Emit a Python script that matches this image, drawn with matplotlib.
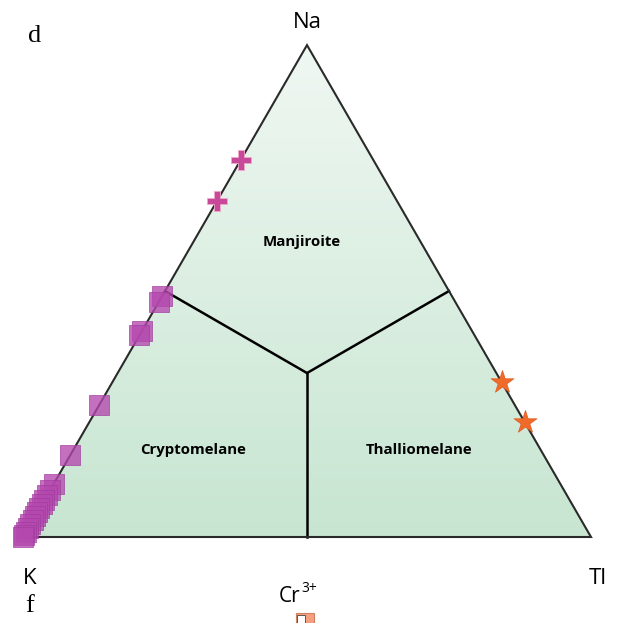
import numpy as np
import matplotlib.pyplot as plt
from matplotlib.patches import Polygon, Rectangle

# ---------------- datos (fracciones Na, K, Tl) ----------------
# cruces: sobre el lado K-Na
plus_na = [0.766, 0.683]
# cuadrados: sobre el lado K-Na (Tl = 0)
sq_na = [0.490, 0.478, 0.418, 0.410, 0.268, 0.167, 0.108,
         0.095, 0.085, 0.075, 0.068, 0.058, 0.050, 0.042,
         0.034, 0.026, 0.018, 0.010, 0.004, 0.0]
# estrellas: sobre el lado Na-Tl (K = 0)
star_na = [0.315, 0.234]

vertex_labels = ["Na", "K", "Tl"]
field_names = ["Manjiroite", "Cryptomelane", "Thalliomelane"]
field_comp = [(0.60, 0.21, 0.19), (0.177, 0.612, 0.211), (0.177, 0.214, 0.609)]

SQ_COLOR = "#b448ae"
PLUS_COLOR = "#c8489a"
STAR_COLOR = "#f06a2a"

H = np.sqrt(3) / 2


def tern(na, k, tl):
    na, k, tl = np.asarray(na, float), np.asarray(k, float), np.asarray(tl, float)
    s = na + k + tl
    return (tl + na / 2) / s, na * H / s


fig = plt.figure(figsize=(6.25, 6.23), dpi=100)
ax = fig.add_axes([0, 0, 1, 1])
S = 568.0  # px por unidad
ax.set_xlim(-23 / S, (625 - 23) / S)
ax.set_ylim(-(623 - 537) / S, 537 / S)
ax.axis("off")

# triángulo con degradado
corners = [tern(1, 0, 0), tern(0, 1, 0), tern(0, 0, 1)]
tri = Polygon(corners, closed=True, facecolor="none", edgecolor="#2a2a2a", lw=1.5, zorder=3)
ax.add_patch(tri)
grad = np.linspace(0, 1, 256).reshape(-1, 1)
top = np.array([0.94, 0.97, 0.95])
bot = np.array([0.78, 0.90, 0.82])
img = top + (bot - top) * grad[..., None]
im = ax.imshow(img, extent=[0, 1, 0, H], origin="upper", aspect="auto", zorder=1)
im.set_clip_path(tri)

# límites de campos
cx, cy = tern(1, 1, 1)
for m in [(1, 1, 0), (1, 0, 1), (0, 1, 1)]:
    mx, my = tern(*m)
    ax.plot([cx, mx], [cy, my], color="black", lw=1.8, zorder=2)

for name, c in zip(field_names, field_comp):
    x, y = tern(*c)
    ax.text(x, y, name, ha="center", va="center", fontsize=10.8, fontweight="bold",
            family="Open Sans", zorder=4)

# puntos
sq = np.array(sq_na)
x, y = tern(sq, 1 - sq, np.zeros_like(sq))
ax.scatter(x, y, marker="s", s=200, color=SQ_COLOR, alpha=0.78, edgecolors="#a03c9e",
           linewidths=0.6, zorder=5)

pl = np.array(plus_na)
x, y = tern(pl, 1 - pl, np.zeros_like(pl))
ax.scatter(x, y, marker="P", s=220, color=PLUS_COLOR, edgecolors="#f0a8c8",
           linewidths=0.6, zorder=5)

st = np.array(star_na)
x, y = tern(st, np.zeros_like(st), 1 - st)
ax.scatter(x, y, marker="*", s=300, color=STAR_COLOR, edgecolors="#e05a20",
           linewidths=0.5, zorder=5)

# etiquetas de vértices y textos de la figura
def px(xp, yp):
    return xp / 625, 1 - yp / 623

fs = 16
fig.text(*px(307, 22), vertex_labels[0], ha="center", va="center", fontsize=fs, family="Open Sans")
fig.text(*px(30, 579), vertex_labels[1], ha="center", va="center", fontsize=fs, family="Open Sans")
fig.text(*px(598, 578), vertex_labels[2], ha="center", va="center", fontsize=fs, family="Open Sans")
fig.text(*px(35, 36), "d", ha="center", va="center", fontsize=19, family="Liberation Serif")
fig.text(*px(30, 606), "f", ha="center", va="center", fontsize=19, family="Liberation Serif")
fig.text(*px(300, 597), "Cr", ha="right", va="center", fontsize=15, family="Open Sans")
fig.text(*px(301, 588), "3+", ha="left", va="center", fontsize=10, family="Open Sans")

# icono recortado abajo
x0, y0 = px(296, 623)
fig.patches.append(Rectangle((x0, y0), 18 / 625, 10 / 623, transform=fig.transFigure,
                             facecolor="#f4a080", edgecolor="#d08060", lw=0.8))
x1, y1 = px(297, 623)
fig.patches.append(Rectangle((x1, y1), 8 / 625, 8 / 623, transform=fig.transFigure,
                             facecolor="white", edgecolor="#444444", lw=0.6))

fig.savefig("out.png", dpi=100)
